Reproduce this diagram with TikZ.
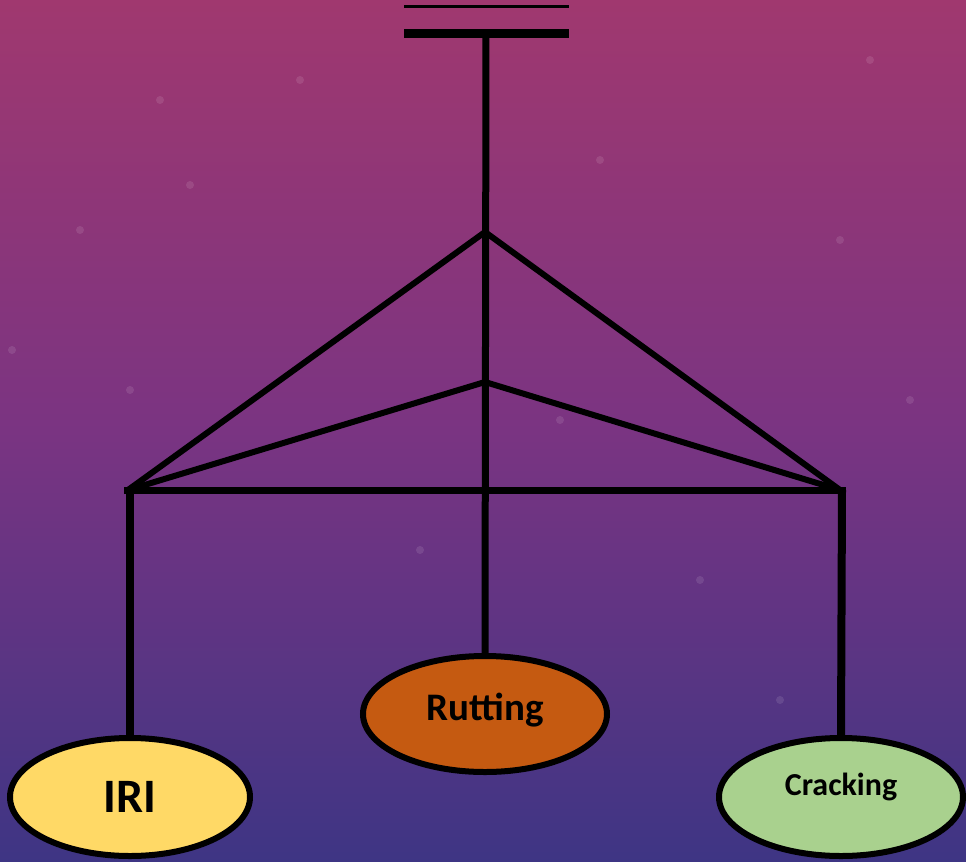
\documentclass[tikz,border=0pt]{standalone}
\usepackage{fontspec}
\setmainfont{Carlito}
\usetikzlibrary{shapes.geometric}
\definecolor{bgtop}{HTML}{A0386F}
\definecolor{bgmid}{HTML}{7A3482}
\definecolor{bgbot}{HTML}{3E3584}
\definecolor{iricol}{HTML}{FFD966}
\definecolor{rutcol}{HTML}{C55A11}
\definecolor{crkcol}{HTML}{A9D18E}
\tikzset{
  bar/.style={line width=7bp, black},
  oval/.style={ellipse, draw=black, line width=6bp, minimum width=240bp, minimum height=118bp, inner sep=0pt},
  lbl/.style={anchor=base, font=\bfseries, text=black, inner sep=0pt},
  star/.style={fill=white, opacity=0.10},
}
\begin{document}
\begin{tikzpicture}[x=1bp, y=-1bp]
\useasboundingbox (0,0) rectangle (966,862);
% background
\shade[top color=bgtop, bottom color=bgbot, middle color=bgmid] (0,0) rectangle (966,862);
% faint stars
\foreach \p in {(160,100),(190,185),(80,230),(12,350),(130,390),(600,160),(870,60),(840,240),(910,400),(420,550),(700,580),(780,700),(300,80),(560,420)}
  \fill[star] \p circle [radius=4];
% top bars
\coordinate (t1l) at (404,6);
\coordinate (t1r) at (569,6);
\draw[line width=3bp] (t1l) -- (t1r);
\coordinate (t2l) at (404,33.5);
\coordinate (t2r) at (569,33.5);
\coordinate (tc) at (486,33.5);
\draw[line width=9bp] (t2l) -- (t2r);
% apexes and corners
\coordinate (a1) at (485,232);
\coordinate (a2) at (485,382);
\coordinate (cl) at (128,490);
\coordinate (cr) at (840,490);
\coordinate (hl) at (124,490);
\coordinate (hr) at (846,490);
\coordinate (vl) at (130,490);
\coordinate (vr) at (842,490);
% ovals
\node[oval, fill=iricol] (iri) at (130,797) {};
\node[oval, fill=rutcol, minimum width=244bp, minimum height=116bp] (rut) at (485,714) {};
\node[oval, fill=crkcol, minimum width=244bp] (crk) at (841,797) {};
\node[lbl, font=\bfseries\fontsize{48bp}{50bp}\selectfont] (iritxt) at (130,812) {IRI};
\node[lbl, font=\bfseries\fontsize{39bp}{41bp}\selectfont] (ruttxt) at (485,720) {Rutting};
\node[lbl, font=\bfseries\fontsize{32bp}{34bp}\selectfont] (crktxt) at (841,795) {Cracking};
% connectors
\draw[bar, line width=6bp] (a1) -- (cl);
\draw[bar, line width=6bp] (a1) -- (cr);
\draw[bar, line width=6bp] (a2) -- (cl);
\draw[bar, line width=6bp] (a2) -- (cr);
\draw[bar] (hl) -- (hr);
\draw[bar] (tc) -- (rut.north);
\draw[bar, line width=8bp] (vl) -- (iri.north);
\draw[bar, line width=8bp] (vr) -- (crk.north);
\end{tikzpicture}
\end{document}
